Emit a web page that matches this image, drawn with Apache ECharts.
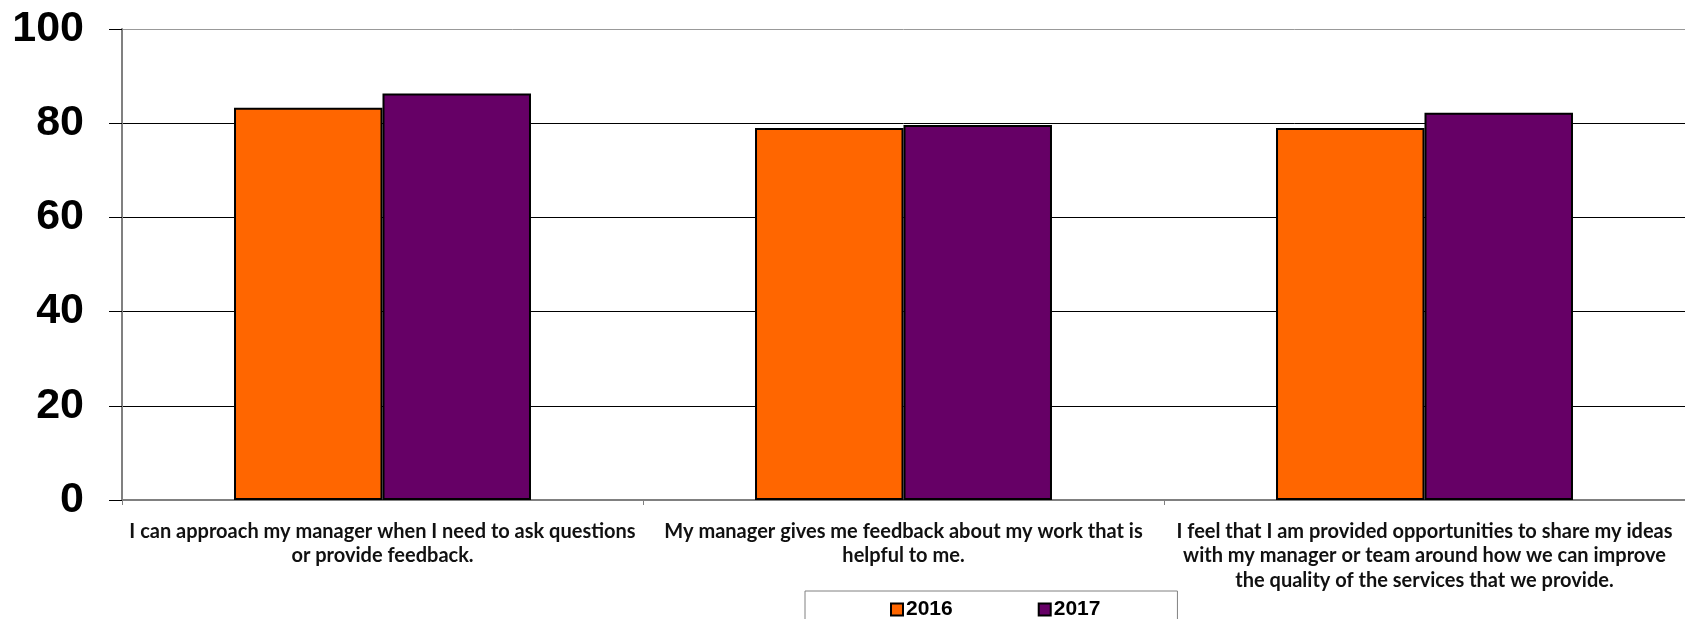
<!DOCTYPE html>
<html>
<head>
<meta charset="utf-8">
<title>Manager feedback survey</title>
<script src="https://cdn.jsdelivr.net/npm/echarts@6/dist/echarts.min.js"></script>
<style>
  html, body { margin: 0; padding: 0; background: #ffffff; }
  #chart { width: 1685px; height: 619px; }
</style>
</head>
<body>
<div id="chart"></div>
<script>
// Survey statements (category labels, line breaks as printed)
const categories = [
  'I can approach my manager when I need to ask questions\nor provide feedback.',
  'My manager gives me feedback about my work that is\nhelpful to me.',
  'I feel that I am provided opportunities to share my ideas\nwith my manager or team around how we can improve\nthe quality of the services that we provide.'
];

// Percent agreement per year
const values2016 = [83.3, 79.0, 79.0];
const values2017 = [86.3, 79.6, 82.2];

// Value axis ticks
const yTicks = [0, 20, 40, 60, 80, 100];

const chart = echarts.init(document.getElementById('chart'), null, { renderer: 'canvas' });

chart.setOption({
  backgroundColor: '#ffffff',
  animation: false,
  grid: { left: 122, right: 0, top: 29, bottom: 119, containLabel: false },
  legend: {
    data: ['2016', '2017'],
    left: 805,
    top: 591,
    orient: 'horizontal',
    itemGap: 85,
    itemWidth: 12,
    itemHeight: 12,
    padding: [8, 77, 20, 85],
    borderColor: '#808080',
    borderWidth: 1,
    icon: 'rect',
    textStyle: {
      fontFamily: '"Liberation Sans", Arial, sans-serif',
      fontWeight: 'bold',
      fontSize: 21,
      color: '#000000',
      padding: [0, 0, 0, -2]
    }
  },
  xAxis: {
    type: 'category',
    data: categories,
    axisLine: { show: true, lineStyle: { color: '#808080', width: 2 } },
    axisTick: { show: true, length: 5, lineStyle: { color: '#808080', width: 1 } },
    axisLabel: {
      interval: 0,
      margin: 19,
      fontFamily: 'Lato, "Open Sans", sans-serif',
      fontWeight: 'bold',
      fontSize: 20,
      lineHeight: 24.5,
      color: '#111111',
      align: 'center'
    },
    splitLine: { show: false }
  },
  yAxis: {
    type: 'value',
    min: yTicks[0],
    max: yTicks[yTicks.length - 1],
    interval: yTicks[1] - yTicks[0],
    axisLine: { show: true, lineStyle: { color: '#808080', width: 2 } },
    axisTick: { show: true, length: 13, lineStyle: { color: '#000000', width: 1 } },
    axisLabel: {
      margin: 38,
      fontFamily: '"Liberation Sans", Arial, sans-serif',
      fontWeight: 'bold',
      fontSize: 43,
      color: '#000000'
    },
    splitLine: {
      show: true,
      lineStyle: {
        color: ['#808080', '#000000', '#000000', '#000000', '#000000', '#999999'],
        width: 1
      }
    }
  },
  series: [
    {
      name: '2016',
      type: 'bar',
      data: values2016,
      barGap: '0%',
      barCategoryGap: '43%',
      itemStyle: { color: '#FF6600', borderColor: '#000000', borderWidth: 2 }
    },
    {
      name: '2017',
      type: 'bar',
      data: values2017,
      barGap: '0%',
      barCategoryGap: '43%',
      itemStyle: { color: '#660066', borderColor: '#000000', borderWidth: 2 }
    }
  ]
});
</script>
</body>
</html>
